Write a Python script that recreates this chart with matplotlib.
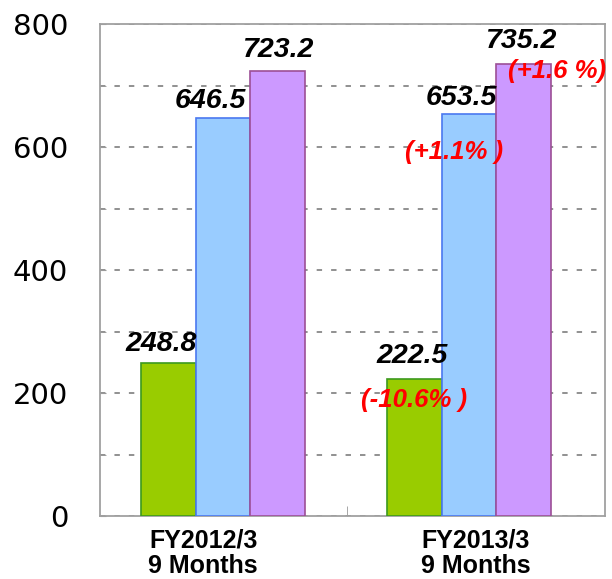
import matplotlib.pyplot as plt
import numpy as np

categories = ["FY2012/3\n9 Months", "FY2013/3\n9 Months"]
green_vals = [248.8, 222.5]
blue_vals = [646.5, 653.5]
purple_vals = [723.2, 735.2]
# (series index, text) for FY2013/3 changes vs previous year
changes = [(0, "(-10.6% )"), (1, "(+1.1% )"), (2, "(+1.6 %)")]

plt.rcParams['font.family'] = ['Liberation Sans', 'DejaVu Sans']

fig = plt.figure(figsize=(6.12, 5.79), dpi=100)
ax = fig.add_axes([100 / 612, 63 / 579, 505 / 612, 492 / 579])

x = np.arange(len(categories))
w = 0.2215
series = [
    (green_vals, "#99cc00", "#3c9a1e", -w),
    (blue_vals, "#99ccff", "#4a78f0", 0),
    (purple_vals, "#cc99ff", "#9c4f96", w),
]
for vals, fc, ec, off in series:
    ax.bar(x + off, vals, w, color=fc, edgecolor=ec, linewidth=1.2, zorder=3)

# value labels, pixel offsets from top centre of each bar
label_dx = [[-7.5, -13, 0], [-2.5, -8, -3]]
label_dy = [[6, 4, 8], [10, 3, 10]]
for i in range(len(categories)):
    for j, (vals, fc, ec, off) in enumerate(series):
        ax.annotate(f"{vals[i]:.1f}", (x[i] + off, vals[i]),
                    xytext=(label_dx[i][j] * 0.72, label_dy[i][j] * 0.72),
                    textcoords="offset points", ha="center", va="bottom",
                    fontsize=20.5, fontweight="bold", fontstyle="italic", zorder=5)

# red change annotations on the second group
change_off = [(0, -21), (-15, -38), (33.5, -7)]
for (j, txt), (dx, dy) in zip(changes, change_off):
    vals, fc, ec, off = series[j]
    ax.annotate(txt, (x[1] + off, vals[1]), xytext=(dx * 0.72, dy * 0.72),
                textcoords="offset points", ha="center", va="center",
                fontsize=18.5, fontweight="bold", fontstyle="italic", color="red",
                zorder=6, annotation_clip=False)

ax.set_xlim(-0.5, 1.553)
ax.set_ylim(0, 800)
ax.set_yticks([0, 200, 400, 600, 800])
ax.set_yticks(range(0, 801, 100), minor=True)
ax.set_yticklabels(["0", "200", "400", "600", "800"], family="DejaVu Sans")
ax.tick_params(axis="y", which="both", direction="in", length=4, color="#999999",
               labelsize=21, pad=23)
ax.yaxis.grid(True, which="both", linestyle=(0, (3, 5)), color="#888888",
              linewidth=1.3, zorder=0)

ax.set_xticks([-0.081, 1.028])
ax.set_xticklabels(categories, fontsize=18, fontweight="bold", linespacing=1.1)
ax.set_xticks([0.504], minor=True)
ax.tick_params(axis="x", which="major", length=0, pad=9)
ax.tick_params(axis="x", which="minor", direction="in", length=7, color="#999999")
for s in ax.spines.values():
    s.set_color("#a0a0a0")
    s.set_linewidth(1.3)

fig.savefig("out.png", dpi=100)
